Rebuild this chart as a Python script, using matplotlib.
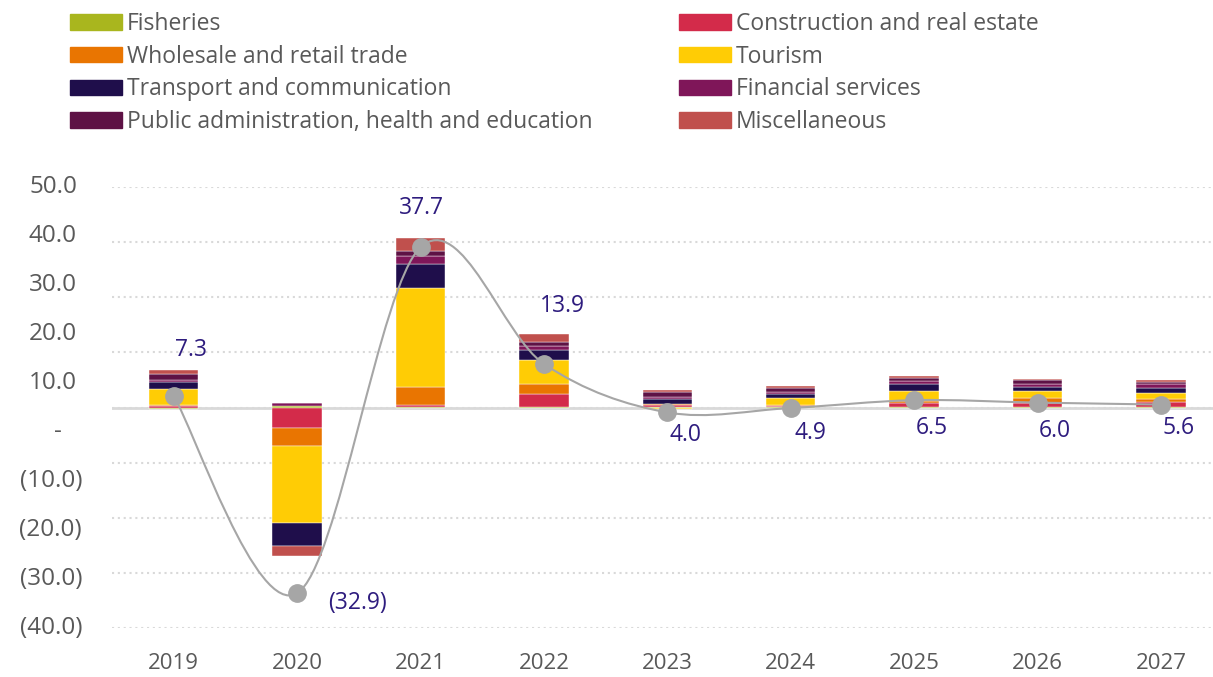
import matplotlib.pyplot as plt
import numpy as np
from matplotlib.patches import Patch, PathPatch
from matplotlib.path import Path

plt.rcParams['font.family'] = ['Open Sans', 'DejaVu Sans']

years = ['2019', '2020', '2021', '2022', '2023', '2024', '2025', '2026', '2027']
sectors = ['Fisheries', 'Construction and real estate', 'Wholesale and retail trade',
           'Tourism', 'Transport and communication', 'Financial services',
           'Public administration, health and education', 'Miscellaneous']

# contributions per sector (bar axis units)
fisheries = [-0.2, 0.3, 0.1, 0.1, 0.05, 0.05, 0.05, 0.05, 0.05]
construction = [0.3, -3.7, 0.4, 2.4, 0.4, 0.2, 0.85, 0.7, 0.9]
wholesale = [0.1, -3.3, 3.2, 1.8, 0.1, 0.15, 0.2, 0.9, 0.6]
tourism = [3.0, -14.0, 18.0, 4.4, -0.2, 1.4, 1.9, 1.3, 1.15]
transport = [1.2, -4.1, 4.4, 1.8, 1.0, 0.7, 1.27, 0.8, 0.9]
financial = [0.3, 0.6, 1.4, 0.6, 0.3, 0.4, 0.55, 0.6, 0.6]
public_admin = [1.2, 0.0, 0.8, 0.7, 0.9, 0.6, 0.5, 0.55, 0.36]
misc = [0.7, -1.9, 2.4, 1.45, 0.4, 0.45, 0.42, 0.36, 0.42]

# total growth (line axis)
growth = [7.3, -32.9, 37.7, 13.9, 4.0, 4.9, 6.5, 6.0, 5.6]
y_ticks = [50, 40, 30, 20, 10, 0, -10, -20, -30, -40]

series = [fisheries, construction, wholesale, tourism, transport, financial, public_admin, misc]
colors = ['#A9B61E', '#D32B4A', '#E97501', '#FFCC05', '#1F0E4B', '#7F1659', '#5E1245', '#C0504D']

# label offsets in pixels (dx, dy up)
label_off = [(17, 46), (60, -10), (1, 39), (19, 58), (18, -23), (20, -25), (18, -28), (17, -28), (18, -23)]

W, H = 1213, 677
fig = plt.figure(figsize=(W / 100, H / 100), dpi=100)
ax = fig.add_axes([112 / W, 49 / H, (W - 112) / W, 441 / H])
ax2 = ax.twinx()

x = np.arange(len(years))
pos_base = np.zeros(len(years))
neg_base = np.zeros(len(years))
for vals, col in zip(series, colors):
    v = np.array(vals)
    bottom = np.where(v >= 0, pos_base, neg_base)
    ax.bar(x, v, 0.4, bottom=bottom, color=col, edgecolor='white', linewidth=0.3, zorder=3)
    pos_base += np.where(v >= 0, v, 0)
    neg_base += np.where(v < 0, v, 0)

ax.set_ylim(-40, 40)
ax.set_yticks(np.arange(-40, 41, 10))
ax.yaxis.grid(True, linestyle=(0, (1, 1.8)), color='#D9D9D9', linewidth=1.5)
ax.set_axisbelow(True)
ax.axhline(0, color='#D9D9D9', linewidth=2, zorder=1)
ax.set_xlim(-0.5, -0.5 + (W - 112) / 123.4)
ax.set_xticks(x, years)
ax.tick_params(axis='x', length=0, pad=18, labelsize=16, labelcolor='#595959')
ax.tick_params(axis='y', left=False, labelleft=False)
for a in (ax, ax2):
    for s in a.spines.values():
        s.set_visible(False)

ax2.set_ylim(-40, 50)
ax2.tick_params(axis='y', right=False, labelright=False)
ytr = ax2.get_yaxis_transform()
for t in y_ticks:
    if t > 0:
        ax2.text(-0.0318, t, f'{t:.1f}', transform=ytr, ha='right', va='center',
                 fontsize=17.5, color='#595959')
    elif t < 0:
        ax2.text(-0.0272, t, f'({-t:.1f})', transform=ytr, ha='right', va='center',
                 fontsize=17.5, color='#595959')
    else:
        ax2.text(-0.049, t, '-', transform=ytr, ha='center', va='center',
                 fontsize=17.5, color='#595959')

# smoothed line
pts = np.column_stack([x, growth]).astype(float)
verts = [pts[0]]
codes = [Path.MOVETO]
n = len(pts)
for i in range(n - 1):
    p0 = pts[max(i - 1, 0)]
    p1 = pts[i]
    p2 = pts[i + 1]
    p3 = pts[min(i + 2, n - 1)]
    verts += [p1 + (p2 - p0) / 6, p2 - (p3 - p1) / 6, p2]
    codes += [Path.CURVE4] * 3
ax2.add_patch(PathPatch(Path(verts, codes), fill=False, edgecolor='#A6A6A6', linewidth=1.5, zorder=3))
ax2.plot(x, growth, 'o', ms=12.5, color='#A6A6A6', zorder=4)
ax2.set_ylim(-40, 50)


def fmt(v):
    return f'({-v:.1f})' if v < 0 else f'{v:.1f}'


for xi, v, (dx, dy) in zip(x, growth, label_off):
    ax2.annotate(fmt(v), (xi, v), xytext=(dx, dy), textcoords='offset pixels',
                 ha='center', va='center', fontsize=16.5, color='#2E1C7E')

handles = [Patch(color=c) for c in colors]
for idx, xpos in (([0, 2, 4, 6], 70), ([1, 3, 5, 7], 679)):
    fig.legend([handles[i] for i in idx], [sectors[i] for i in idx], loc='upper left',
               bbox_to_anchor=(xpos / W, 1 - 12 / H), frameon=False, borderpad=0,
               borderaxespad=0, handlelength=2.27, handleheight=0.65, handletextpad=0.22,
               labelspacing=0.38, fontsize=16.5, labelcolor='#595959')

fig.savefig('out.png', dpi=100)
